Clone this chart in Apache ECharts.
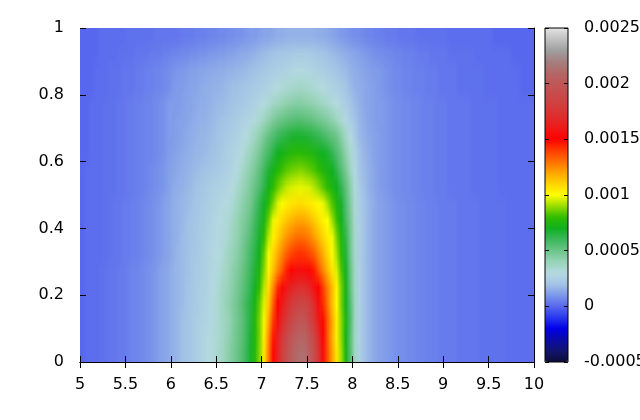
<!DOCTYPE html>
<html><head><meta charset="utf-8">
<script src="https://cdn.jsdelivr.net/npm/echarts@6.0.0/dist/echarts.min.js"></script>
<style>
html,body{margin:0;padding:0;background:#fff}
#wrap{position:relative;width:640px;height:420px;overflow:hidden}
#hm{position:absolute;left:80px;top:28px;transform-origin:0 0}
#c{position:absolute;left:0;top:0;width:640px;height:420px}
</style>
</head><body><div id="wrap"><div id="hm"></div><div id="c"></div></div>
<script>
// Axis ticks
const xTicks = [5, 5.5, 6, 6.5, 7, 7.5, 8, 8.5, 9, 9.5, 10];
const yTicks = [0, 0.2, 0.4, 0.6, 0.8, 1];
// colour bar ticks, in units of 1e-5
const cbTicks = [-50, 0, 50, 100, 150, 200, 250];

// grid cell centres (x: 5..10 step 0.05, y: 0..1 step 0.05)
const xCenters = []; for (let i = 0; i < 100; i++) xCenters.push((5.025 + 0.05 * i).toFixed(3));
const yCenters = []; for (let j = 0; j < 20; j++) yCenters.push((0.025 + 0.05 * j).toFixed(3));

// values, in units of 1e-5
// x 5.0-6.0 segments (20 cells)
const leftA = [0,1,1,1,2,2,3,3,4,4,5,6,6,7,8,9,10,12,13,14];
const leftB = [0,1,1,1,1,2,2,3,3,4,4,5,5,6,7,8,9,10,12,13];
const leftB2 = [0,1,1,1,1,2,2,2,3,3,4,4,5,5,6,7,8,9,10,12];
const leftC = [0,0,1,1,1,2,2,2,3,3,4,4,5,5,6,6,7,8,9,11];
const leftD = [0,0,0,1,1,1,2,2,2,3,3,3,4,4,5,5,6,6,7,8];
const left18 = [0,0,0,0,1,1,1,1,2,2,2,2,3,3,3,4,4,4,5,5];
const left19 = [0,0,0,0,1,1,1,1,1,1,2,2,2,2,2,2,3,3,3,3];
// x 8.3-10.0 segments (34 cells)
const rightA = [12,11,10,9,8,8,7,7,6,6,5,5,5,4,4,4,4,3,3,3,3,3,2,2,2,2,2,2,1,1,1,1,1,1];
const rightB = [11,10,9,8,8,7,7,6,6,5,5,5,4,4,4,3,3,3,3,3,2,2,2,2,2,2,1,1,1,1,1,1,1,1];
const rightC = [10,9,8,7,7,6,6,5,5,5,4,4,4,3,3,3,3,2,2,2,2,2,2,1,1,1,1,1,1,1,1,0,0,0];
const right18 = [8,7,7,6,6,5,5,5,4,4,4,3,3,3,3,2,2,2,2,2,2,1,1,1,1,1,1,1,1,0,0,0,0,0];
const right19 = [5,4,4,4,3,3,3,3,2,2,2,2,2,2,2,1,1,1,1,1,1,1,1,1,1,0,0,0,0,0,0,0,0,0];

// rows, bottom (y=0.025) to top (y=0.975)
const z00 = [...leftA, 16,17,19,20,22,24,26,28,30,32, 35,38,42,46,50,54,60,68,77,88, 105,128,149,166,182,194,204,210,213,212, 205,193,175,155,136,120,106,91,73,55, 37,26,20,17,15,13, ...rightA];
const z01 = [...leftA, 16,17,19,20,22,24,26,28,30,32, 34,37,41,45,49,53,59,67,76,87, 103,125,146,163,178,190,199,205,208,207, 200,188,171,152,134,118,104,89,72,54, 37,26,20,17,15,13, ...rightA];
const z02 = [...leftA, 16,17,19,20,22,24,26,27,29,31, 34,37,40,44,48,52,58,65,76,87, 99,119,140,156,168,179,188,195,199,199, 187,176,162,149,134,119,104,89,74,56, 38,26,20,17,15,13, ...rightA];
const z03 = [...leftA, 16,17,18,20,22,23,25,27,29,31, 34,38,41,45,48,53,59,65,73,85, 97,113,133,151,161,170,179,184,188,187, 181,170,156,143,129,115,101,87,71,55, 38,26,20,17,15,13, ...rightA];
const z04 = [...leftA, 16,17,18,20,21,23,25,26,28,30, 33,37,40,43,47,51,56,62,69,80, 93,108,125,142,153,160,166,170,172,171, 166,158,151,140,127,115,102,87,72,52, 37,26,20,17,15,13, ...rightA];
const z05 = [...leftA, 16,17,18,19,21,23,24,26,28,29, 32,35,38,42,45,49,54,60,66,75, 88,103,114,125,135,145,151,155,156,155, 152,146,136,126,116,106,96,83,69,51, 37,26,20,17,15,13, ...rightA];
const z06 = [...leftB, 15,17,18,19,21,22,24,26,27,29, 30,33,37,40,43,47,52,58,64,71, 85,99,109,118,126,133,138,141,142,141, 138,133,126,118,109,101,91,79,66,49, 35,25,20,17,15,13, ...rightA];
const z07 = [...leftB, 15,16,18,19,20,22,23,25,27,28, 29,31,34,38,41,45,50,55,61,68, 80,93,103,110,117,123,127,130,131,130, 127,122,116,110,104,99,87,76,63,48, 35,25,20,17,15,13, ...rightA];
const z08 = [...leftB, 15,16,17,19,20,21,23,24,26,28, 29,31,33,36,40,44,47,52,59,65, 73,86,98,104,109,113,116,119,120,119, 116,112,107,103,100,91,81,71,58,47, 34,25,20,17,15,13, ...rightA];
const z09 = [...leftB, 15,16,17,18,19,21,22,24,25,27, 28,29,30,33,37,41,45,48,55,62, 69,78,87,96,101,104,106,107,108,107, 105,103,101,98,91,83,75,68,56,45, 33,24,20,17,15,13, ...rightA];
const z10 = [...leftB2, 14,15,16,17,18,20,21,22,24,25, 26,27,28,30,34,38,42,46,51,56, 63,72,79,85,90,94,96,97,98,97, 96,93,89,84,79,74,70,62,53,43, 32,23,19,16,14,12, ...rightB];
const z11 = [...leftB2, 13,14,15,16,17,18,19,20,21,22, 23,24,26,28,30,34,39,43,47,52, 59,66,72,77,81,84,86,87,88,87, 85,83,80,76,73,70,63,55,47,38, 29,21,18,16,14,12, ...rightB];
const z12 = [...leftC, 12,13,14,15,16,17,17,18,19,20, 21,23,25,26,28,30,35,39,43,47, 53,58,64,70,72,75,77,78,78,77, 76,74,72,70,67,62,56,50,42,34, 27,20,17,15,13,12, ...rightB];
const z13 = [...leftC, 11,12,13,14,15,16,17,17,18,19, 20,22,23,25,26,28,30,34,38,42, 47,52,56,60,63,65,67,68,68,67, 66,64,62,59,56,53,50,44,37,30, 23,18,16,14,13,12, ...rightB];
const z14 = [...leftC, 11,12,12,13,14,15,16,16,17,18, 19,20,21,22,24,25,27,28,31,34, 38,42,46,49,51,53,54,55,55,54, 53,51,49,47,45,42,38,34,29,24, 20,17,15,13,12,11, ...rightB];
const z15 = [...leftC, 11,11,12,13,13,14,15,15,16,17, 18,18,19,20,21,22,23,25,26,28, 30,33,36,38,40,42,43,44,44,43, 42,41,39,37,35,32,30,27,24,21, 18,16,14,13,12,11, ...rightB];
const z16 = [...leftD, 10,11,11,12,13,13,14,15,15,16, 16,17,18,19,19,20,21,22,23,24, 25,27,29,30,32,33,34,35,36,35, 34,33,31,30,28,27,25,23,21,18, 16,15,14,13,12,11, ...rightC];
const z17 = [...leftD, 9,10,10,11,12,12,13,13,14,14, 15,15,16,16,17,17,18,19,20,21, 22,23,24,25,26,27,28,29,29,29, 28,27,26,25,23,22,21,19,18,16, 15,14,13,12,11,11, ...rightC];
const z18 = [...left18, 6,6,7,7,8,8,9,9,10,10, 11,11,12,12,13,14,14,15,16,17, 18,19,20,21,21,22,22,23,23,23, 23,22,21,20,19,18,17,16,15,14, 13,12,11,10,9,8, ...right18];
const z19 = [...left19, 3,3,4,4,4,5,5,5,6,6, 7,7,8,8,9,9,10,11,11,12, 13,13,14,15,15,16,16,16,16,16, 16,16,15,15,14,13,12,11,10,9, 8,8,7,6,6,5, ...right19];
const zRows = [z00,z01,z02,z03,z04,z05,z06,z07,z08,z09,z10,z11,z12,z13,z14,z15,z16,z17,z18,z19];

// palette from -0.0005 to 0.0025 in 0.0001 steps
const palette = ['#0c0c3a','#121470','#0a0aa8','#0000e8','#2838f0','#5868ee','#7c98ea','#a4c4e6','#b4dae0','#98d4b8',
  '#6cc488','#3cb85c','#10b020','#30bc00','#98dc00','#ffff00','#ffd400','#ffa400','#ff7000','#ff3c00',
  '#ff0000','#f01818','#e02c2c','#d43c3c','#c84a4a','#c05656','#b46868','#a48080','#a0a0a0','#c0c0c0','#e4e4e4'];

const data = [];
zRows.forEach((row, j) => row.forEach((v, i) => data.push([i, j, v])));

// plot area
const PL = 80, PT = 28, PW = 454, PH = 334;

// --- heat layer: one pixel per cell, shown smoothly scaled (like pm3d interpolation)
const hmEl = document.getElementById('hm');
const nx = xCenters.length, ny = yCenters.length;
hmEl.style.width = nx + 'px';
hmEl.style.height = ny + 'px';
hmEl.style.transform = 'scale(' + (PW / nx) + ',' + (PH / ny) + ')';
const heat = echarts.init(hmEl, null, { devicePixelRatio: 1, width: nx, height: ny });
heat.setOption({
  animation: false,
  grid: { left: 0, right: 0, top: 0, bottom: 0, show: false, outerBoundsMode: 'none', containLabel: false },
  xAxis: { type: 'category', data: xCenters, show: false },
  yAxis: { type: 'category', data: yCenters, show: false },
  visualMap: { type: 'continuous', show: false, min: cbTicks[0], max: cbTicks[cbTicks.length - 1], dimension: 2, inRange: { color: palette } },
  series: [{
    type: 'custom', data: data, progressive: 0, silent: true,
    renderItem: function (params, api) {
      const p = api.coord([api.value(0), api.value(1)]);
      const s = api.size([1, 1]);
      return { type: 'rect', shape: { x: p[0] - s[0] / 2, y: p[1] - s[1] / 2, width: s[0], height: s[1] },
               style: { fill: api.visual('color') } };
    }
  }]
});

// --- axes and colour bar layer
const font = { fontFamily: 'DejaVu Sans', fontSize: 16, color: '#000' };
const black = { color: '#000', width: 1 };
const chart = echarts.init(document.getElementById('c'));
chart.setOption({
  animation: false,
  backgroundColor: 'transparent',
  grid: [
    { left: PL, top: PT, width: PW, height: PH, show: false, outerBoundsMode: 'none', containLabel: false },
    { left: 545, top: PT, width: 23, height: PH, show: true, borderColor: '#000', borderWidth: 1, backgroundColor: 'transparent', z: 10,
      outerBoundsMode: 'none', containLabel: false }
  ],
  xAxis: [
    { type: 'value', gridIndex: 0, position: 'bottom', min: xTicks[0], max: xTicks[xTicks.length - 1], interval: xTicks[1] - xTicks[0], z: 10,
      axisLine: { show: true, lineStyle: black }, axisTick: { show: true, inside: true, length: 6, lineStyle: black },
      axisLabel: Object.assign({ margin: 15, showMinLabel: true, showMaxLabel: true }, font), splitLine: { show: false } },
    { type: 'value', gridIndex: 0, position: 'top', min: xTicks[0], max: xTicks[xTicks.length - 1], interval: xTicks[1] - xTicks[0], z: 10,
      axisLine: { show: true, lineStyle: black }, axisTick: { show: true, inside: true, length: 6, lineStyle: black },
      axisLabel: { show: false }, splitLine: { show: false } },
    { type: 'value', gridIndex: 1, min: 0, max: 1, show: false }
  ],
  yAxis: [
    { type: 'value', gridIndex: 0, position: 'left', min: yTicks[0], max: yTicks[yTicks.length - 1], interval: yTicks[1] - yTicks[0], z: 10,
      axisLine: { show: false }, axisTick: { show: true, inside: true, length: 6, lineStyle: black },
      axisLabel: Object.assign({ margin: 16, showMinLabel: true, showMaxLabel: true }, font), splitLine: { show: false } },
    { type: 'value', gridIndex: 0, position: 'right', min: yTicks[0], max: yTicks[yTicks.length - 1], interval: yTicks[1] - yTicks[0], z: 10,
      axisLine: { show: true, lineStyle: black }, axisTick: { show: true, inside: true, length: 6, lineStyle: black },
      axisLabel: { show: false }, splitLine: { show: false } },
    { type: 'value', gridIndex: 1, position: 'left', min: cbTicks[0], max: cbTicks[cbTicks.length - 1], interval: cbTicks[1] - cbTicks[0], z: 11,
      axisLine: { show: false }, axisTick: { show: true, inside: true, length: 4, lineStyle: black },
      axisLabel: { show: false }, splitLine: { show: false } },
    { type: 'value', gridIndex: 1, position: 'right', min: cbTicks[0], max: cbTicks[cbTicks.length - 1], interval: cbTicks[1] - cbTicks[0], z: 11,
      axisLine: { show: false }, axisTick: { show: true, inside: true, length: 4, lineStyle: black },
      axisLabel: Object.assign({ margin: 16, showMinLabel: true, showMaxLabel: true, formatter: v => String(v / 100000) }, font),
      splitLine: { show: false } }
  ],
  visualMap: {
    type: 'continuous', min: cbTicks[0], max: cbTicks[cbTicks.length - 1], dimension: 2,
    calculable: false, hoverLink: false, left: 545, top: PT, padding: 0, itemWidth: 23, itemHeight: PH,
    text: null, inRange: { color: palette }, z: 4
  },
  series: []
});
</script>
</body></html>
